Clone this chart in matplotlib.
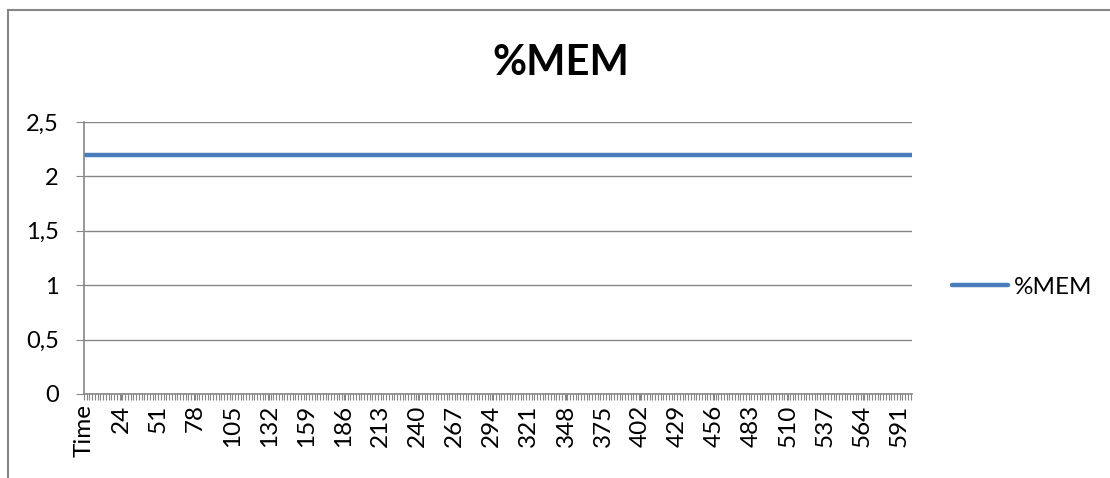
import matplotlib
matplotlib.use("Agg")
import matplotlib.pyplot as plt
from matplotlib.lines import Line2D
from matplotlib.ticker import MultipleLocator

plt.rcParams["font.family"] = ["Lato", "DejaVu Sans"]

GRAY = "#868686"
BLUE = "#4a7ebb"

# categories: header row, three empty rows, then 1..600
categories = ["Time", "", "", ""] + [str(i) for i in range(1, 601)]
# %MEM stays flat at 2.2 for the whole run
mem = [2.2] * len(categories)
y_ticks = [0, 0.5, 1, 1.5, 2, 2.5]
y_labels = ["0", "0,5", "1", "1,5", "2", "2,5"]
LABEL_STEP = 27

W, H = 1110, 478
fig = plt.figure(figsize=(W / 100, H / 100), dpi=100)
ax = fig.add_axes([84 / W, 1 - 394 / H, (912 - 84) / W, (394 - 122) / H])

x = list(range(len(categories)))
ax.plot(x, mem, color=BLUE, linewidth=3.2, solid_capstyle="round", label="%MEM")

ax.set_xlim(0, len(categories) - 1)
ax.set_ylim(0, 2.5)
ax.set_yticks(y_ticks)
ax.set_yticklabels(y_labels)
ax.grid(axis="y", color=GRAY, linewidth=1)
ax.set_axisbelow(True)

label_pos = x[::LABEL_STEP]
ax.set_xticks(label_pos)
ax.set_xticklabels([categories[i] for i in label_pos], rotation=90)
ax.xaxis.set_minor_locator(MultipleLocator(2))

for s in ["top", "right"]:
    ax.spines[s].set_visible(False)
for s in ["left", "bottom"]:
    ax.spines[s].set_color(GRAY)
    ax.spines[s].set_linewidth(1.2)

ax.tick_params(axis="y", length=6, color=GRAY, pad=12, labelsize=17)
ax.tick_params(axis="x", which="both", length=4.5, color=GRAY, width=0.8, pad=3, labelsize=17.5)

fig.text(561 / W, 1 - 75 / H, "%MEM", ha="center", va="baseline",
         fontsize=30, fontweight="bold")

fig.legend(loc="center left", bbox_to_anchor=(952 / W, 1 - 287 / H),
           frameon=False, fontsize=17.5, handlelength=2.3, handletextpad=0.25,
           borderpad=0, borderaxespad=0)

# chart area border (top and left visible in the crop)
fig.add_artist(Line2D([8 / W, 8 / W], [0, 1 - 10 / H], color=GRAY, linewidth=1.5))
fig.add_artist(Line2D([8 / W, 1], [1 - 10 / H, 1 - 10 / H], color=GRAY, linewidth=1.5))

fig.savefig("out.png", dpi=100)
